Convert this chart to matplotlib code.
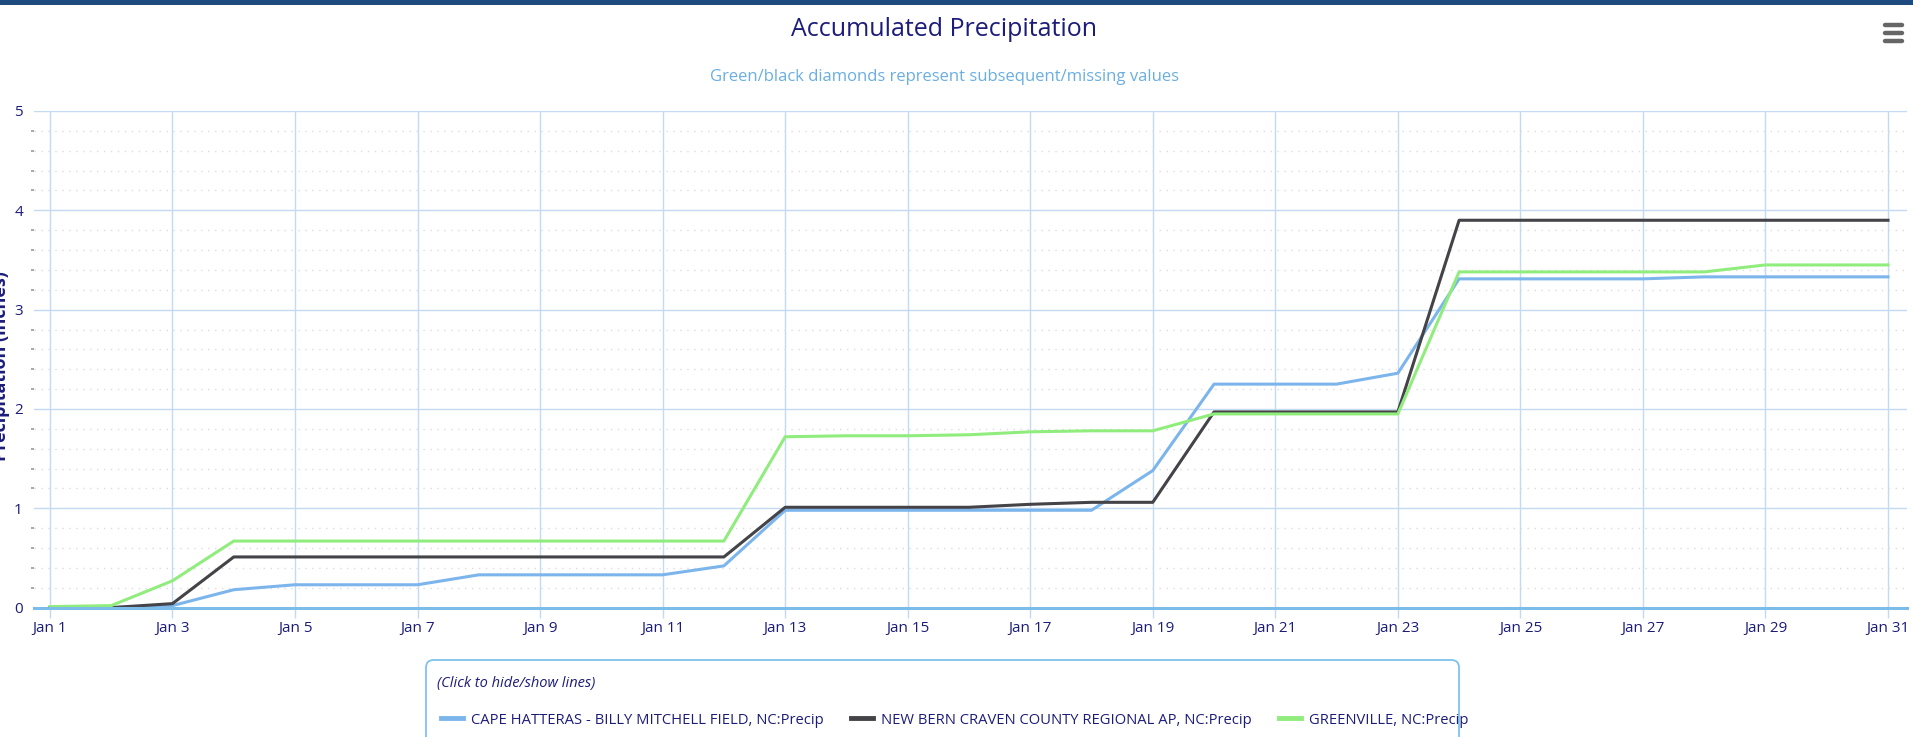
import matplotlib
matplotlib.use("Agg")
import matplotlib.pyplot as plt
from matplotlib.patches import FancyBboxPatch, Rectangle
from matplotlib.lines import Line2D
from matplotlib.ticker import MultipleLocator

# ---------------- data ----------------
days = list(range(1, 32))
cape_hatteras = [0.00, 0.00, 0.02, 0.18, 0.23, 0.23, 0.23, 0.33, 0.33, 0.33,
                 0.33, 0.42, 0.98, 0.98, 0.98, 0.98, 0.98, 0.98, 1.38, 2.25,
                 2.25, 2.25, 2.36, 3.31, 3.31, 3.31, 3.31, 3.33, 3.33, 3.33, 3.33]
new_bern = [0.00, 0.00, 0.04, 0.51, 0.51, 0.51, 0.51, 0.51, 0.51, 0.51,
            0.51, 0.51, 1.01, 1.01, 1.01, 1.01, 1.04, 1.06, 1.06, 1.97,
            1.97, 1.97, 1.97, 3.90, 3.90, 3.90, 3.90, 3.90, 3.90, 3.90, 3.90]
greenville = [0.01, 0.02, 0.27, 0.67, 0.67, 0.67, 0.67, 0.67, 0.67, 0.67,
              0.67, 0.67, 1.72, 1.73, 1.73, 1.74, 1.77, 1.78, 1.78, 1.95,
              1.95, 1.95, 1.95, 3.38, 3.38, 3.38, 3.38, 3.38, 3.45, 3.45, 3.45]
series_names = ["CAPE HATTERAS - BILLY MITCHELL FIELD, NC:Precip",
                "NEW BERN CRAVEN COUNTY REGIONAL AP, NC:Precip",
                "GREENVILLE, NC:Precip"]
series_colors = ["#7cb5ec", "#434348", "#90ed7d"]
tick_days = list(range(1, 32, 2))
tick_labels = [f"Jan {d}" for d in tick_days]
y_ticks = [0, 1, 2, 3, 4, 5]

title = "Accumulated Precipitation"
subtitle = "Green/black diamonds represent subsequent/missing values"
y_label = "Precipitation (inches)"
legend_title = "(Click to hide/show lines)"

# ---------------- style ----------------
FONT = ["Liberation Sans Narrow", "DejaVu Sans Condensed", "Open Sans", "DejaVu Sans"]
plt.rcParams["font.family"] = FONT
NAVY = "#1c1c7a"
GRID = "#c2dbf2"

W, H = 1913, 737
fig = plt.figure(figsize=(W / 100, H / 100), dpi=100)
fig.patch.set_facecolor("white")

ax = fig.add_axes([34 / W, 1 - 607.6 / H, (1907 - 34) / W, (607.6 - 111) / H])

for vals, name, col in zip([cape_hatteras, new_bern, greenville], series_names, series_colors):
    ax.plot(days, vals, color=col, lw=2.2, label=name, solid_joinstyle="round")

ax.set_xlim(0.74, 31.31)
ax.set_ylim(0, 5)
ax.set_xticks(tick_days)
ax.set_xticklabels(tick_labels)
ax.set_yticks(y_ticks)
ax.yaxis.set_minor_locator(MultipleLocator(0.2))

ax.grid(True, which="major", axis="both", color=GRID, lw=1.0)
ax.grid(True, which="minor", axis="y", color="#dcdcdc", lw=1.0, linestyle=(0, (1, 4)))
ax.set_axisbelow(True)

for s in ["top", "right", "left"]:
    ax.spines[s].set_visible(False)
ax.spines["bottom"].set_color("#7cbce8")
ax.spines["bottom"].set_linewidth(2.2)

ax.tick_params(axis="x", which="major", length=7, width=1, color=GRID,
               labelcolor=NAVY, labelsize=11, pad=3)
ax.tick_params(axis="y", which="major", length=0, labelcolor=NAVY, labelsize=11, pad=8)
ax.tick_params(axis="y", which="minor", length=2, width=1.2, color="#9a9a9a")

# y label (partly cut at the left edge, as in the reference)
fig.text(1 / W, 1 - 366 / H, y_label, rotation=90, ha="center", va="center",
         fontsize=13, fontweight="bold", color=NAVY)

# titles
fig.text(0.5 * (654 + 893) / 1568, 1 - 29 / H, title, ha="center", va="center",
         fontsize=18, color=NAVY)
fig.text(0.5 * (587 + 962) / 1568, 1 - 77 / H, subtitle, ha="center", va="center",
         fontsize=12, color="#6aaee2")

# top band
fig.add_artist(Rectangle((0, 1 - 5 / H), 1, 5 / H, transform=fig.transFigure,
                         color="#1f4a7d", lw=0))

# hamburger icon
for yy in [25, 33, 41]:
    fig.add_artist(Line2D([1885 / W, 1902 / W], [1 - yy / H, 1 - yy / H],
                          transform=fig.transFigure, color="#666666", lw=3.2,
                          solid_capstyle="round"))

# legend box
box = FancyBboxPatch((426 / W, -0.05), (1459 - 426) / W, 0.05 + (737 - 660) / H,
                     boxstyle="round,pad=0,rounding_size=0.004",
                     mutation_aspect=W / H, transform=fig.transFigure,
                     facecolor="white", edgecolor="#7cc4ec", lw=1.3)
fig.add_artist(box)
fig.text(437 / W, 1 - 684 / H, legend_title, ha="left", va="center",
         fontsize=10.5, style="italic", color=NAVY)
handles, labels = ax.get_legend_handles_labels()
leg = fig.legend(handles, labels, ncol=3, loc="center left",
                 bbox_to_anchor=(428 / W, 1 - 720 / H), frameon=False,
                 fontsize=10.6, handlelength=1.5, handletextpad=0.5,
                 columnspacing=1.9, labelcolor=NAVY)
for h in leg.legend_handles:
    h.set_linewidth(3.5)

fig.savefig("out.png", dpi=100, facecolor="white")
